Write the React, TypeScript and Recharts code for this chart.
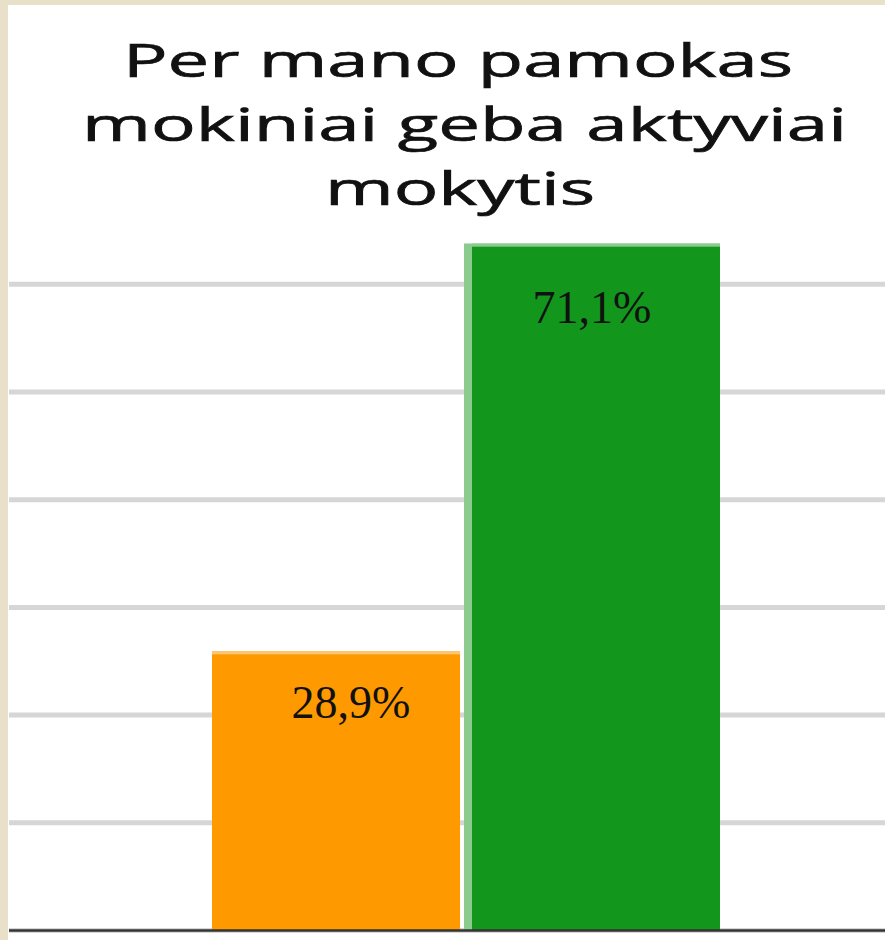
import React from 'react';
import { BarChart, Bar, XAxis, YAxis, CartesianGrid, LabelList, ReferenceLine } from 'recharts';

const categories = ['Per mano pamokas mokiniai geba aktyviai mokytis'];
const seriesNames = ['Ne', 'Taip'];
const seriesValues = [[28.9], [71.1]];
const yTicks = [0, 11.15, 22.3, 33.45, 44.6, 55.75, 66.9];
const titleLines = ['Per mano pamokas', 'mokiniai geba aktyviai', 'mokytis'];

const data = categories.map((c, i) => ({
  category: c,
  s0: seriesValues[0][i],
  s1: seriesValues[1][i],
}));

const COLORS = ['#FF9900', '#12961C'];
const LIGHT = ['#FBC878', '#8CCB8E'];

const fmt = (v: any) => Number(v).toFixed(1).replace('.', ',') + '%';

const makeShape = (idx: number) => (props: any) => {
  const { x, y, width, height } = props;
  if (!height || height <= 0) return <g />;
  return (
    <g>
      {idx === 1 && <rect x={x - 8} y={y} width={8} height={height} fill={LIGHT[idx]} />}
      <rect x={x} y={y} width={width} height={height} fill={COLORS[idx]} />
      <rect x={idx === 1 ? x - 8 : x} y={y} width={idx === 1 ? width + 8 : width} height={3} fill={LIGHT[idx]} />
    </g>
  );
};

const makeLabel = (dx: number, dy: number) => (props: any) => {
  const { x, y, width, value } = props;
  return (
    <text
      x={Number(x) + Number(width) / 2 + dx}
      y={Number(y) + dy}
      textAnchor="middle"
      fontFamily="'Liberation Serif', 'Times New Roman', serif"
      fontSize={46}
      fill="#111"
    >
      {fmt(value)}
    </text>
  );
};

const EmptyTick = () => <g />;

export default function App() {
  return (
    <div style={{ position: 'relative', width: 885, height: 940, background: '#E8E0C8', overflow: 'hidden' }}>
      <style>{'body{margin:0;}'}</style>
      <div
        style={{
          position: 'absolute',
          left: 8,
          top: 5,
          width: 877,
          height: 935,
          background: '#FFFFFF',
          overflow: 'hidden',
        }}
      >
        <BarChart
          width={915}
          height={935}
          data={data}
          margin={{ top: 230, right: 0, bottom: 9.5, left: 0 }}
          barGap={12}
        >
          <CartesianGrid vertical={false} syncWithTicks stroke="#D6D6D6" strokeWidth={5} />
          <XAxis
            dataKey="category"
            tick={false}
            tickLine={false}
            axisLine={false}
            height={0}
          />
          <YAxis
            type="number"
            domain={[0, 72]}
            ticks={yTicks}
            interval={0}
            width={1}
            tick={EmptyTick}
            tickLine={false}
            axisLine={false}
          />
          <Bar dataKey="s0" name={seriesNames[0]} fill={COLORS[0]} barSize={248} isAnimationActive={false} shape={makeShape(0)}>
            <LabelList dataKey="s0" content={makeLabel(15, 66.5)} />
          </Bar>
          <Bar dataKey="s1" name={seriesNames[1]} fill={COLORS[1]} barSize={248} isAnimationActive={false} shape={makeShape(1)}>
            <LabelList dataKey="s1" content={makeLabel(-4, 79)} />
          </Bar>
          <ReferenceLine y={0} stroke="#333333" strokeWidth={2.5} ifOverflow="visible" />
        </BarChart>
        <svg
          width={877}
          height={230}
          style={{ position: 'absolute', left: 0, top: 0, pointerEvents: 'none' }}
        >
          {titleLines.map((t, i) => (
            <text
              key={i}
              x={[450, 456.5, 452][i]}
              y={72 + i * 64}
              textAnchor="middle"
              fontFamily="'Open Sans', 'DejaVu Sans', sans-serif"
              fontSize={46}
              fill="#111"
              stroke="#111"
              strokeWidth={0.7}
              textLength={[670, 765, 270][i]}
              lengthAdjust="spacingAndGlyphs"
            >
              {t}
            </text>
          ))}
        </svg>
      </div>
    </div>
  );
}
